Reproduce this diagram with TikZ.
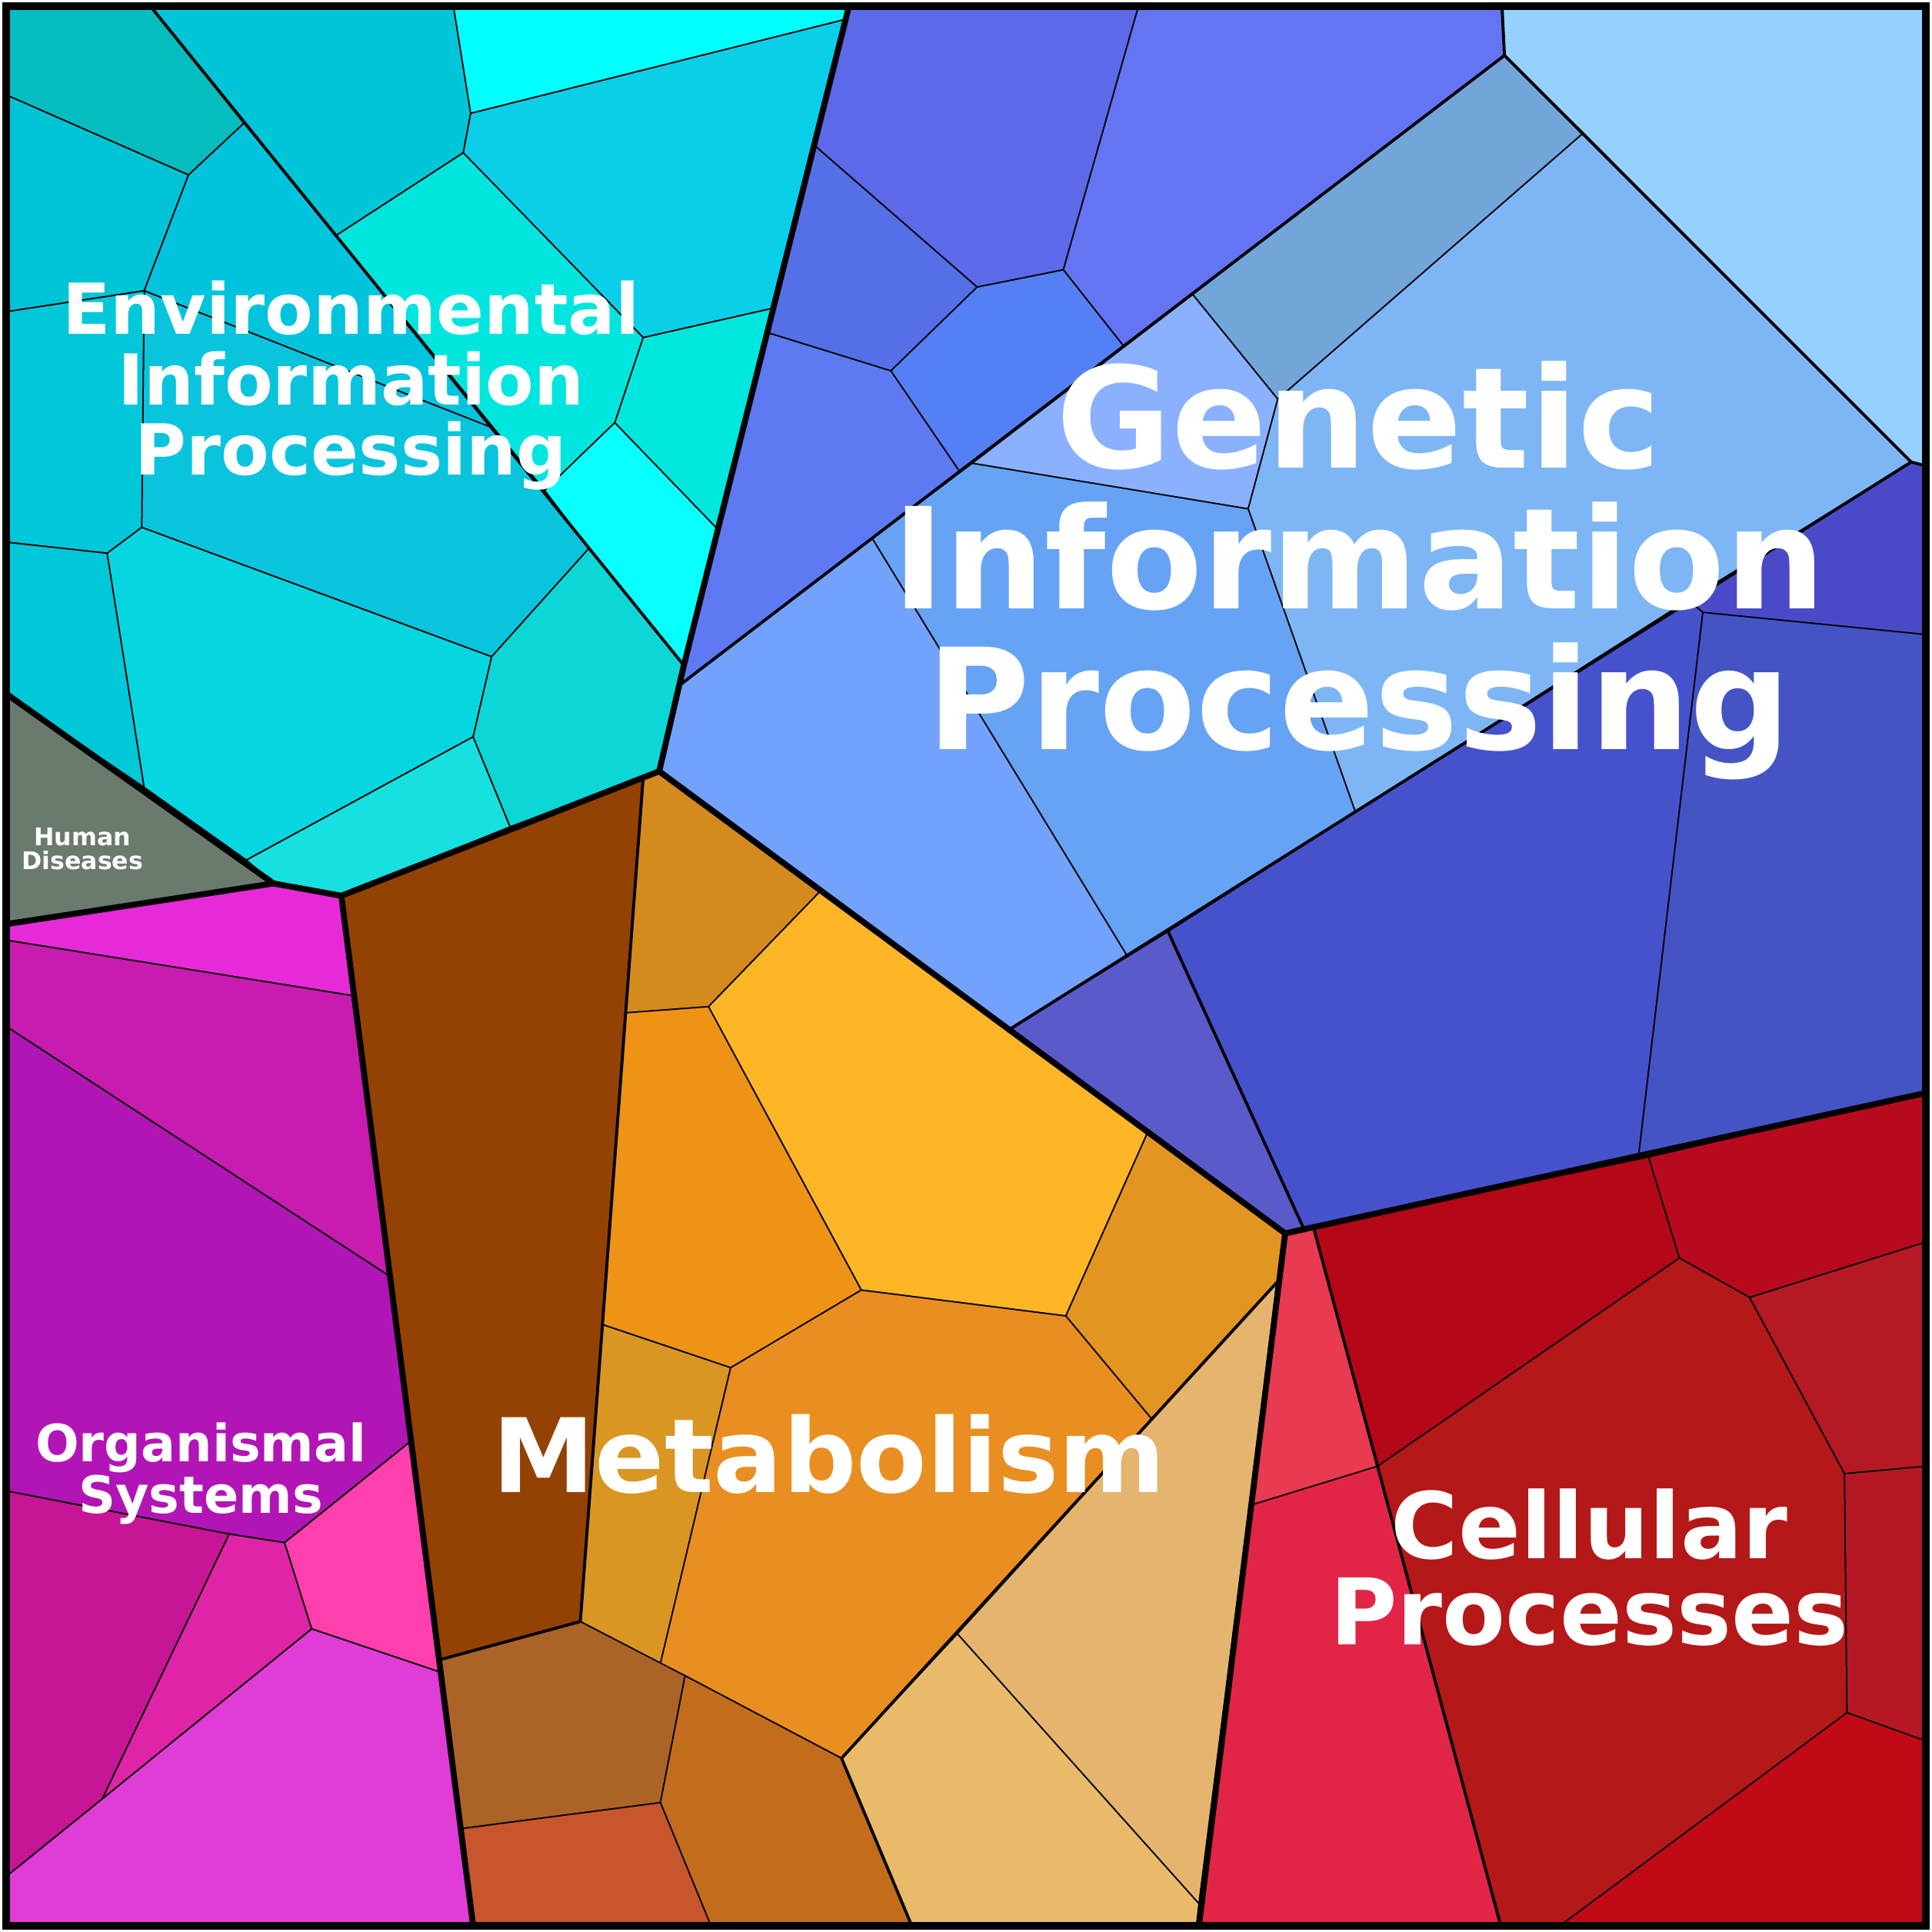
\documentclass[tikz,border=0pt]{standalone}
\usepackage{fontspec}
\setmainfont{DejaVu Sans}
\usetikzlibrary{positioning}
\tikzset{cell/.style = {draw=black, line width=0.5pt, line join=round},
    mid/.style =  {draw=black, line width=1.1pt, line join=round},
    major/.style = {draw=black, line width=2.2pt, line join=round},
    lbl/.style =  {text=white, font=\bfseries, align=center, inner sep=0pt}
}
\newcommand\Cell[2]{\filldraw[cell, fill={#1}] #2 -- cycle;}

\begin{document}
\begin{tikzpicture}[x=0.01602cm, y=-0.01602cm]
    \useasboundingbox (0,0) rectangle (1568,1568);
    % environmental
    \Cell{rgb,255:red,5;green,188;blue,190}{(5,5) -- (122,5) -- (198,100) -- (153,142) -- (5,77)}
    \Cell{rgb,255:red,0;green,198;blue,216}{(122,5) -- (368,5) -- (382,92) -- (376,124) -- (273,191) -- (198,100)}
    \Cell{rgb,255:red,0;green,255;blue,255}{(368,5) -- (689,5) -- (689,15) -- (382,92)}
    \Cell{rgb,255:red,11;green,207;blue,232}{(382,92) -- (689,15) -- (628,250) -- (522,274) -- (376,124)}
    \Cell{rgb,255:red,0;green,229;blue,221}{(273,191) -- (376,124) -- (522,274) -- (499,343) -- (442,398)}
    \Cell{rgb,255:red,7;green,255;blue,255}{(442,398) -- (499,343) -- (583,430) -- (555,540) -- (478,445)}
    \Cell{rgb,255:red,0;green,232;blue,222}{(522,274) -- (628,250) -- (583,430) -- (499,343)}
    \Cell{rgb,255:red,0;green,196;blue,214}{(5,77) -- (153,142) -- (117,236) -- (5,253)}
    \Cell{rgb,255:red,0;green,196;blue,222}{(117,236) -- (153,142) -- (198,100) -- (399,347)}
    \Cell{rgb,255:red,10;green,196;blue,222}{(117,236) -- (399,347) -- (478,445) -- (399,533) -- (115,428)}
    \Cell{rgb,255:red,0;green,200;blue,216}{(5,253) -- (117,236) -- (115,428) -- (87,449) -- (5,440)}
    \Cell{rgb,255:red,0;green,200;blue,216}{(5,440) -- (87,449) -- (117,639) -- (5,563)}
    \Cell{rgb,255:red,6;green,214;blue,224}{(87,449) -- (115,428) -- (399,533) -- (384,598) -- (200,698) -- (117,639)}
    \Cell{rgb,255:red,22;green,224;blue,224}{(200,698) -- (384,598) -- (414,671) -- (277,727) -- (222,717)}
    \Cell{rgb,255:red,12;green,214;blue,214}{(399,533) -- (478,445) -- (555,540) -- (535,626) -- (414,671) -- (384,598)}
    \Cell{rgb,255:red,106;green,123;blue,110}{(5,563) -- (222,717) -- (5,750)}
    % genetic
    \Cell{rgb,255:red,92;green,105;blue,232}{(689,5) -- (924,5) -- (863,219) -- (793,233) -- (661,118)}
    \Cell{rgb,255:red,101;green,116;blue,242}{(924,5) -- (1219,5) -- (1221,45) -- (912,281) -- (863,219)}
    \Cell{rgb,255:red,85;green,112;blue,230}{(661,118) -- (793,233) -- (723,301) -- (623,270)}
    \Cell{rgb,255:red,85;green,128;blue,245}{(793,233) -- (863,219) -- (912,281) -- (779,383) -- (723,301)}
    \Cell{rgb,255:red,94;green,122;blue,242}{(623,270) -- (723,301) -- (779,383) -- (553,555)}
    \Cell{rgb,255:red,114;green,165;blue,218}{(1221,45) -- (1285,108) -- (1037,324) -- (968,239)}
    \Cell{rgb,255:red,138;green,176;blue,255}{(968,239) -- (1037,324) -- (1013,413) -- (789,376)}
    \Cell{rgb,255:red,126;green,182;blue,245}{(1285,108) -- (1551,375) -- (1100,659) -- (1013,413) -- (1037,324)}
    \Cell{rgb,255:red,150;green,208;blue,255}{(1219,5) -- (1563,5) -- (1563,378) -- (1551,375) -- (1285,108) -- (1221,45)}
    \Cell{rgb,255:red,114;green,162;blue,251}{(553,555) -- (708,437) -- (915,776) -- (820,835) -- (535,626)}
    \Cell{rgb,255:red,102;green,163;blue,245}{(708,437) -- (789,376) -- (1013,413) -- (1100,659) -- (915,776)}
    \Cell{rgb,255:red,74;green,74;blue,200}{(1551,375) -- (1563,378) -- (1563,515) -- (1382,497) -- (1370,487)}
    \Cell{rgb,255:red,70;green,82;blue,204}{(1100,659) -- (1370,487) -- (1382,497) -- (1330,937) -- (1058,997) -- (948,756)}
    \Cell{rgb,255:red,69;green,84;blue,196}{(1382,497) -- (1563,515) -- (1563,887) -- (1330,937)}
    \Cell{rgb,255:red,90;green,90;blue,202}{(820,835) -- (948,756) -- (1058,997) -- (1043,1001)}
    % metabolism
    \Cell{rgb,255:red,147;green,66;blue,4}{(277,727) -- (522,631) -- (471,1316) -- (357,1347)}
    \Cell{rgb,255:red,213;green,138;blue,30}{(522,631) -- (535,626) -- (666,723) -- (575,817) -- (508,822)}
    \Cell{rgb,255:red,254;green,181;blue,38}{(666,723) -- (931,920) -- (865,1068) -- (699,1047) -- (575,817)}
    \Cell{rgb,255:red,238;green,147;blue,21}{(508,822) -- (575,817) -- (699,1047) -- (593,1110) -- (489,1075)}
    \Cell{rgb,255:red,226;green,149;blue,32}{(931,920) -- (1043,1001) -- (1037,1040) -- (935,1152) -- (865,1068)}
    \Cell{rgb,255:red,217;green,150;blue,35}{(489,1075) -- (593,1110) -- (536,1350) -- (471,1316)}
    \Cell{rgb,255:red,233;green,142;blue,32}{(593,1110) -- (699,1047) -- (865,1068) -- (935,1152) -- (683,1427) -- (556,1360) -- (536,1350)}
    \Cell{rgb,255:red,229;green,180;blue,110}{(1037,1040) -- (973,1545) -- (777,1326) -- (935,1152)}
    \Cell{rgb,255:red,233;green,186;blue,106}{(777,1326) -- (973,1545) -- (971,1563) -- (740,1563) -- (683,1427)}
    \Cell{rgb,255:red,172;green,99;blue,39}{(357,1347) -- (471,1316) -- (556,1360) -- (536,1463) -- (375,1484)}
    \Cell{rgb,255:red,194;green,109;blue,28}{(556,1360) -- (683,1427) -- (740,1563) -- (577,1563) -- (536,1463)}
    \Cell{rgb,255:red,199;green,86;blue,45}{(375,1484) -- (536,1463) -- (577,1563) -- (384,1563)}
    % organismal
    \Cell{rgb,255:red,231;green,42;blue,216}{(5,750) -- (222,717) -- (277,727) -- (286,808) -- (5,763)}
    \Cell{rgb,255:red,200;green,27;blue,176}{(5,763) -- (286,808) -- (315,1035) -- (5,833)}
    \Cell{rgb,255:red,178;green,21;blue,181}{(5,833) -- (315,1035) -- (333,1170) -- (231,1252) -- (186,1245) -- (5,1210)}
    \Cell{rgb,255:red,199;green,22;blue,149}{(5,1210) -- (186,1245) -- (83,1460) -- (5,1523)}
    \Cell{rgb,255:red,224;green,36;blue,168}{(186,1245) -- (231,1252) -- (253,1322) -- (83,1460)}
    \Cell{rgb,255:red,255;green,63;blue,174}{(231,1252) -- (333,1170) -- (357,1357) -- (253,1322)}
    \Cell{rgb,255:red,224;green,60;blue,214}{(5,1523) -- (83,1460) -- (253,1322) -- (357,1357) -- (384,1563) -- (5,1563)}
    % cellular
    \Cell{rgb,255:red,180;green,7;blue,23}{(1066,996) -- (1338,939) -- (1363,1021) -- (1118,1190)}
    \Cell{rgb,255:red,184;green,10;blue,30}{(1338,939) -- (1563,887) -- (1563,1008) -- (1420,1053) -- (1363,1021)}
    \Cell{rgb,255:red,180;green,24;blue,24}{(1118,1190) -- (1363,1021) -- (1420,1053) -- (1497,1196) -- (1499,1390) -- (1266,1563) -- (1218,1563)}
    \Cell{rgb,255:red,181;green,26;blue,36}{(1420,1053) -- (1563,1008) -- (1563,1190) -- (1497,1196)}
    \Cell{rgb,255:red,181;green,24;blue,36}{(1497,1196) -- (1563,1190) -- (1563,1413) -- (1499,1390)}
    \Cell{rgb,255:red,194;green,10;blue,22}{(1499,1390) -- (1563,1413) -- (1563,1563) -- (1266,1563)}
    \Cell{rgb,255:red,232;green,58;blue,80}{(1043,1001) -- (1066,996) -- (1118,1190) -- (1017,1221)}
    \Cell{rgb,255:red,226;green,37;blue,70}{(1017,1221) -- (1118,1190) -- (1218,1563) -- (973,1563)}

    % second level borders
    \draw[mid] (122,5) -- (555,540);
    \draw[mid] (553,555) -- (1221,45) -- (1219,5);
    \draw[mid] (1221,45) -- (1551,375) -- (1563,378);
    \draw[mid] (1551,375) -- (820,835);
    \draw[mid] (948,756) -- (1058,997);
    \draw[mid] (522,631) -- (471,1316) -- (357,1347);
    \draw[mid] (1037,1040) -- (683,1427) -- (740,1563);
    \draw[mid] (1037,1040) -- (973,1563);
    \draw[mid] (1066,996) -- (1218,1563);

    % top level borders
    \draw[major] (689,5) -- (555,540) -- (535,626) -- (277,727) -- (222,717) -- (5,563);
    \draw[major] (222,717) -- (5,750);
    \draw[major] (277,727) -- (384,1563);
    \draw[major] (535,626) -- (1043,1001) -- (1563,887);
    \draw[major] (1043,1001) -- (973,1563);
    \draw[draw=black, line width=2.8pt] (5,5) rectangle (1563,1563);

    % labels
    \node[lbl, font=\bfseries\fontsize{26}{26}\selectfont] (env) at (285,313) {Environmental\\Information\\Processing};
    \node[lbl, font=\bfseries\fontsize{52}{52}\selectfont] (gen) at (1103,463) {Genetic\\Information\\Processing};
    \node[lbl, font=\bfseries\fontsize{38}{38}\selectfont] (met) at (673,1180) {Metabolism};
    \node[lbl, font=\bfseries\fontsize{34}{32}\selectfont] (cel) at (1290,1272) {Cellular\\Processes};
    \node[lbl, font=\bfseries\fontsize{19}{18}\selectfont] (org) at (163,1196) {Organismal\\Systems};
    \node[lbl, font=\bfseries\fontsize{9}{9}\selectfont] (hum) at (67,689) {Human\\Diseases};
\end{tikzpicture}
\end{document}
